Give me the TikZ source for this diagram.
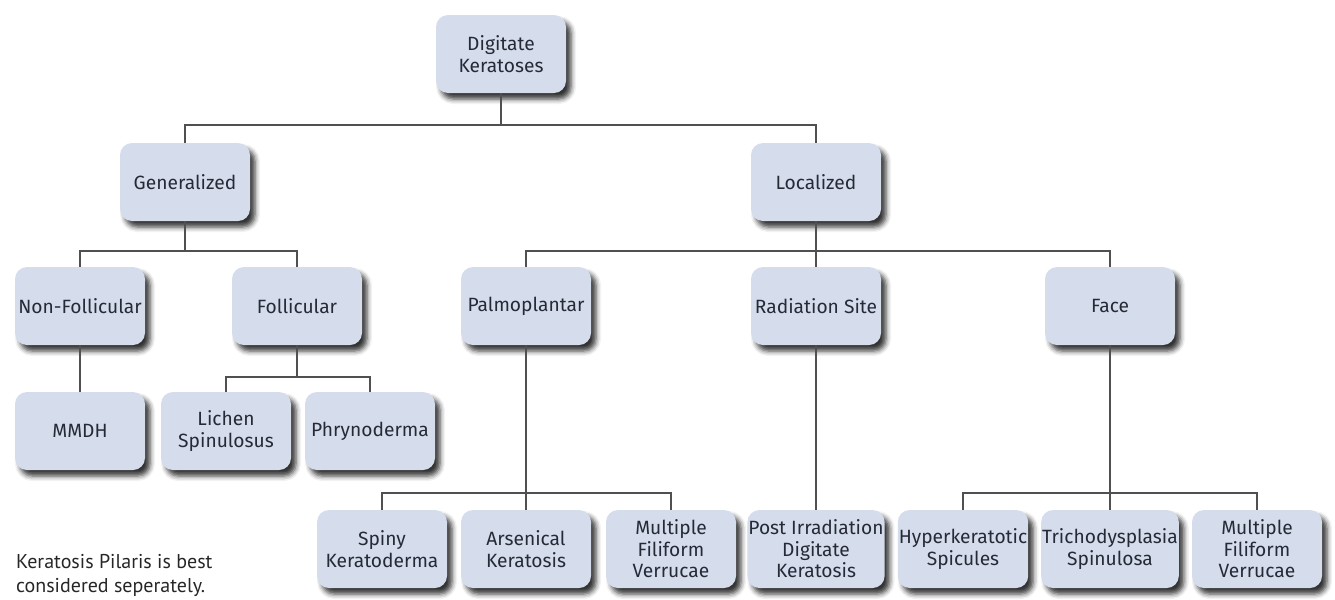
\documentclass[tikz,border=0pt]{standalone}
\usepackage{fontspec}
\setmainfont{Fira Sans}
\newfontfamily\notefont{PT Sans}
\usetikzlibrary{shadows.blur}
\definecolor{boxfill}{RGB}{213,221,236}
\definecolor{boxtext}{RGB}{38,42,54}
\definecolor{linegray}{RGB}{80,80,80}
\tikzset{
  x=0.5pt, y=-0.5pt,
}
\tikzstyle{cat}=[rounded corners=6pt,fill=boxfill,minimum width=65pt,
  minimum height=39pt,align=center,text=boxtext,inner sep=0.5pt,
  font=\fontsize{9.6}{10.8}\selectfont,
  blur shadow={shadow xshift=2.5pt,shadow yshift=-3pt,
    shadow blur radius=2.5pt,shadow opacity=80}]
\tikzstyle{link}=[linegray,line width=0.6pt]

\begin{document}
\begin{tikzpicture}
    \useasboundingbox (0,0) rectangle (1335,600);
    % levels
    \node[cat] (dk)  at (501,54)  {Digitate\\Keratoses};
    \node[cat] (gen) at (185,182) {Generalized};
    \node[cat] (loc) at (816,182) {Localized};
    \node[cat] (nonf) at (80,306)  {Non-Follicular};
    \node[cat] (foll) at (297,306) {Follicular};
    \node[cat] (palm) at (526,306) {Palmoplantar};
    \node[cat] (rad)  at (816,306) {Radiation Site};
    \node[cat] (face) at (1110,306) {Face};
    \node[cat] (mmdh) at (80,431)  {MMDH};
    \node[cat] (lich) at (226,431) {Lichen\\Spinulosus};
    \node[cat] (phry) at (370,431) {Phrynoderma};
    \node[cat] (spiny) at (382,549) {Spiny\\Keratoderma};
    \node[cat] (arsen) at (526,549) {Arsenical\\Keratosis};
    \node[cat] (mfv)   at (671,549) {Multiple\\Filiform\\Verrucae};
    \node[cat] (post)  at (816,549) {Post Irradiation\\Digitate\\Keratosis};
    \node[cat] (hyper) at (963,549) {Hyperkeratotic\\Spicules};
    \node[cat] (tricho) at (1110,549) {Trichodysplasia\\Spinulosa};
    \node[cat] (mfv2)  at (1257,549) {Multiple\\Filiform\\Verrucae};
    % connectors
    \draw[link] (dk.south) -- (dk.south |- 0,125) -| (gen.north);
    \draw[link] (dk.south |- 0,125) -| (loc.north);
    \draw[link] (gen.south) -- (gen.south |- 0,251) -| (nonf.north);
    \draw[link] (gen.south |- 0,251) -| (foll.north);
    \draw[link] (loc.south) -- (loc.south |- 0,251) -| (palm.north);
    \draw[link] (loc.south |- 0,251) -| (face.north);
    \draw[link] (loc.south |- 0,251) -- (rad.north);
    \draw[link] (nonf.south) -- (mmdh.north);
    \draw[link] (foll.south) -- (foll.south |- 0,377) -| (lich.north);
    \draw[link] (foll.south |- 0,377) -| (phry.north);
    \draw[link] (palm.south) -- (palm.south |- 0,493) -| (spiny.north);
    \draw[link] (palm.south |- 0,493) -| (mfv.north);
    \draw[link] (palm.south |- 0,493) -- (arsen.north);
    \draw[link] (rad.south) -- (post.north);
    \draw[link] (face.south) -- (face.south |- 0,493) -| (hyper.north);
    \draw[link] (face.south |- 0,493) -| (mfv2.north);
    \draw[link] (face.south |- 0,493) -- (tricho.north);
    % note
    \node[anchor=west,align=left,font=\notefont\fontsize{10}{12}\selectfont,
      text=black!85] (note) at (9,575)
      {Keratosis Pilaris is best\\considered seperately.};
  \end{tikzpicture}
\end{document}
